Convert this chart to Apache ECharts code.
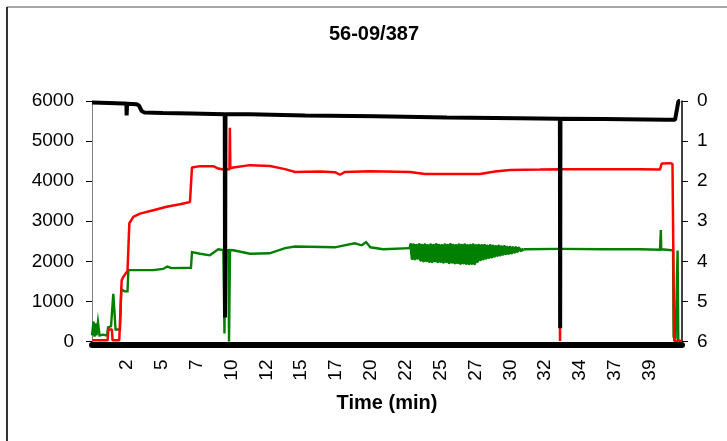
<!DOCTYPE html>
<html>
<head>
<meta charset="utf-8">
<script src="https://cdn.jsdelivr.net/npm/echarts@6/dist/echarts.min.js"></script>
<style>
  html, body { margin: 0; padding: 0; background: #fff; }
  #chart { width: 727px; height: 441px; }
</style>
</head>
<body>
<div id="chart"></div>
<script>
// Time axis tick labels (minutes), one per tick after the origin
const xTickLabels = ['2', '5', '7', '10', '12', '15', '17', '20', '22', '25', '27', '30', '32', '34', '37', '39'];

// Red trace, left axis: [time (min), value]
const redSeries = [
  [0, 30], [1.10, 30], [1.15, 300], [1.40, 300], [1.45, 30], [1.92, 30],
  [2.09, 1525], [2.20, 1610], [2.50, 1760], [2.56, 1780], [2.63, 2950],
  [2.91, 3110], [3.38, 3190], [4.32, 3275], [5.26, 3360], [6.20, 3425],
  [6.90, 3480], [6.97, 3470], [7.04, 4340], [7.61, 4375], [8.54, 4375],
  [8.89, 4315], [9.25, 4290], [9.68, 4300], [9.71, 5330], [9.74, 4320],
  [9.95, 4340], [11.13, 4400], [12.54, 4380], [13.59, 4300], [14.30, 4230],
  [16.06, 4240], [17.11, 4225], [17.46, 4160], [17.82, 4230], [19.58, 4250],
  [22.39, 4230], [23.45, 4180], [27.32, 4180], [28.38, 4240], [29.44, 4280],
  [31.55, 4290], [32.93, 4300], [32.96, 10], [32.99, 4300], [35.77, 4300],
  [38.59, 4300], [39.99, 4290], [40.12, 4440], [40.70, 4450], [40.88, 4430],
  [41.00, 20], [41.55, 20]
];

// Green trace, left axis: start-up section
const greenStart = [
  [0, 150], [0.11, 500], [0.18, 120], [0.25, 450], [0.32, 150], [0.42, 480],
  [0.53, 150], [0.77, 170], [1.06, 150], [1.13, 350], [1.34, 380], [1.48, 380],
  [1.50, 1190], [1.62, 1150], [1.66, 300], [1.97, 300], [2.06, 1300],
  [2.30, 1250], [2.50, 1250], [2.56, 1780], [4.30, 1780], [5.00, 1810],
  [5.30, 1870], [5.60, 1830], [6.97, 1840], [7.04, 2230], [7.61, 2190],
  [8.30, 2150], [8.89, 2300], [9.25, 2280], [9.33, 200], [9.38, 2280],
  [9.60, 2280], [9.65, 0], [9.72, 2280], [9.95, 2275], [11.13, 2190],
  [12.50, 2200], [13.60, 2330], [14.30, 2370], [17.10, 2350], [18.50, 2450],
  [19.00, 2400], [19.30, 2480], [19.60, 2350], [20.50, 2300], [22.40, 2330]
];

// Green trace: unsteady stretch
const greenBand = [
  [22.40, 2330], [22.45, 2420], [22.55, 2070], [22.65, 2410], [22.75, 2060],
  [22.85, 2400], [22.95, 2080], [23.05, 2420], [23.15, 2030], [23.25, 2400],
  [23.35, 2010], [23.45, 2410], [23.55, 2020], [23.65, 2390], [23.75, 2000],
  [23.85, 2410], [23.95, 1990], [24.05, 2400], [24.15, 2010], [24.25, 2420],
  [24.35, 1990], [24.45, 2400], [24.55, 2000], [24.65, 2390], [24.75, 1980],
  [24.85, 2410], [24.95, 1990], [25.05, 2400], [25.15, 1970], [25.25, 2420],
  [25.35, 1980], [25.45, 2400], [25.55, 1960], [25.65, 2390], [25.75, 1970],
  [25.85, 2410], [25.95, 1950], [26.05, 2400], [26.15, 1960], [26.25, 2410],
  [26.35, 1950], [26.45, 2390], [26.55, 1940], [26.65, 2400], [26.75, 1950],
  [26.85, 2410], [26.95, 1940], [27.05, 2390], [27.15, 2000], [27.25, 2400],
  [27.35, 2040], [27.45, 2390], [27.55, 2060], [27.65, 2400], [27.75, 2080],
  [27.85, 2380], [27.95, 2100], [28.05, 2390], [28.15, 2110], [28.25, 2380],
  [28.35, 2130], [28.45, 2370], [28.55, 2150], [28.65, 2380], [28.75, 2160],
  [28.85, 2360], [28.95, 2180], [29.05, 2370], [29.15, 2190], [29.25, 2350],
  [29.35, 2200], [29.45, 2350], [29.55, 2210], [29.65, 2340], [29.75, 2230],
  [29.85, 2340], [29.95, 2250], [30.05, 2330], [30.20, 2270], [30.40, 2300]
];

// Green trace: steady section and shutdown
const greenEnd = [
  [30.40, 2300], [33.00, 2310], [36.00, 2300], [38.60, 2300], [40.00, 2290],
  [40.03, 2300], [40.06, 2780], [40.09, 2300], [40.92, 2275], [40.96, 100],
  [41.03, 100], [41.06, 780], [41.10, 60], [41.20, 60], [41.24, 2270],
  [41.29, 10], [41.55, 10]
];

// Black trace, right (inverted) axis: [time (min), value]
const blackSeries = [
  [0, 0.04], [1.20, 0.05], [2.20, 0.06], [2.42, 0.06], [2.44, 0.36], [2.47, 0.07],
  [3.15, 0.08], [3.30, 0.11], [3.50, 0.25], [3.70, 0.29], [5.00, 0.30],
  [7.00, 0.31], [9.35, 0.33], [9.37, 5.40], [9.40, 0.33], [11.10, 0.33],
  [15.00, 0.36], [20.00, 0.38], [25.00, 0.41], [30.00, 0.43], [32.95, 0.44],
  [32.97, 5.67], [32.99, 0.44], [36.00, 0.45], [40.50, 0.47], [41.06, 0.47],
  [41.30, 0.00], [41.40, 0.00]
];

const FONT = '"Liberation Sans", Arial, Helvetica, sans-serif';

const chart = echarts.init(document.getElementById('chart'), null, { renderer: 'canvas' });

function greenLine(data, width, join) {
  return {
    type: 'line', yAxisIndex: 0, z: 2, clip: false,
    symbol: 'none', showSymbol: false,
    lineStyle: { color: '#008000', width: width, join: join || 'miter' },
    data: data
  };
}

chart.setOption({
  animation: false,
  backgroundColor: '#fff',
  textStyle: { fontFamily: FONT },
  title: {
    text: '56-09/387',
    left: 369,
    top: 19,
    textAlign: 'center',
    textStyle: { fontFamily: FONT, fontWeight: 'bold', fontSize: 20, color: '#000' }
  },
  graphic: [
    { type: 'line', shape: { x1: 7, y1: 7, x2: 727, y2: 7 }, style: { stroke: '#888', lineWidth: 1.6 } },
    { type: 'line', shape: { x1: 7, y1: 7, x2: 7, y2: 441 }, style: { stroke: '#000', lineWidth: 1.6 } }
  ],
  grid: { left: 92, right: 45, top: 101, bottom: 99.5, containLabel: false },
  xAxis: {
    type: 'value',
    min: 0,
    max: 41.55,
    interval: 2.455,
    offset: 3,
    axisLine: { show: true, onZero: false, lineStyle: { color: '#000', width: 6 } },
    axisTick: { show: false },
    splitLine: { show: false },
    axisLabel: {
      rotate: 90,
      margin: 15,
      fontSize: 19,
      color: '#000',
      fontFamily: FONT,
      formatter: (v, i) => xTickLabels[i - 1] || ''
    },
    name: 'Time (min)',
    nameLocation: 'middle',
    nameGap: 49,
    nameTextStyle: { fontFamily: FONT, fontWeight: 'bold', fontSize: 20, color: '#000' }
  },
  yAxis: [
    {
      type: 'value',
      position: 'left',
      min: 0, max: 6000, interval: 1000,
      axisLine: { show: true, onZero: false, lineStyle: { color: '#808080', width: 1 } },
      axisTick: { show: true, length: 5, lineStyle: { color: '#000', width: 1 } },
      splitLine: { show: false },
      axisLabel: { margin: 18, fontSize: 19, color: '#000', fontFamily: FONT, formatter: v => String(v) }
    },
    {
      type: 'value',
      position: 'right',
      inverse: true,
      min: 0, max: 6, interval: 1,
      axisLine: { show: true, onZero: false, lineStyle: { color: '#000', width: 1.5 } },
      axisTick: { show: true, length: 6, lineStyle: { color: '#000', width: 1 } },
      splitLine: { show: false },
      axisLabel: { margin: 15, fontSize: 19, color: '#000', fontFamily: FONT }
    },
    {
      // inner half of the crossing ticks on the right axis
      type: 'value',
      position: 'right',
      inverse: true,
      min: 0, max: 6, interval: 1,
      axisLine: { show: false },
      axisTick: { show: true, inside: true, length: 6, lineStyle: { color: '#000', width: 1 } },
      splitLine: { show: false },
      axisLabel: { show: false }
    }
  ],
  series: [
    greenLine(greenStart, 2.4),
    greenLine(greenBand, 3.2, 'round'),
    greenLine(greenEnd, 2.4),
    {
      type: 'line', yAxisIndex: 0, z: 3, clip: false,
      symbol: 'none', showSymbol: false,
      lineStyle: { color: '#ff0000', width: 2.5 },
      data: redSeries
    },
    {
      type: 'line', yAxisIndex: 1, z: 4, clip: false,
      symbol: 'none', showSymbol: false,
      lineStyle: { color: '#000', width: 4 },
      data: blackSeries
    }
  ]
});
</script>
</body>
</html>
